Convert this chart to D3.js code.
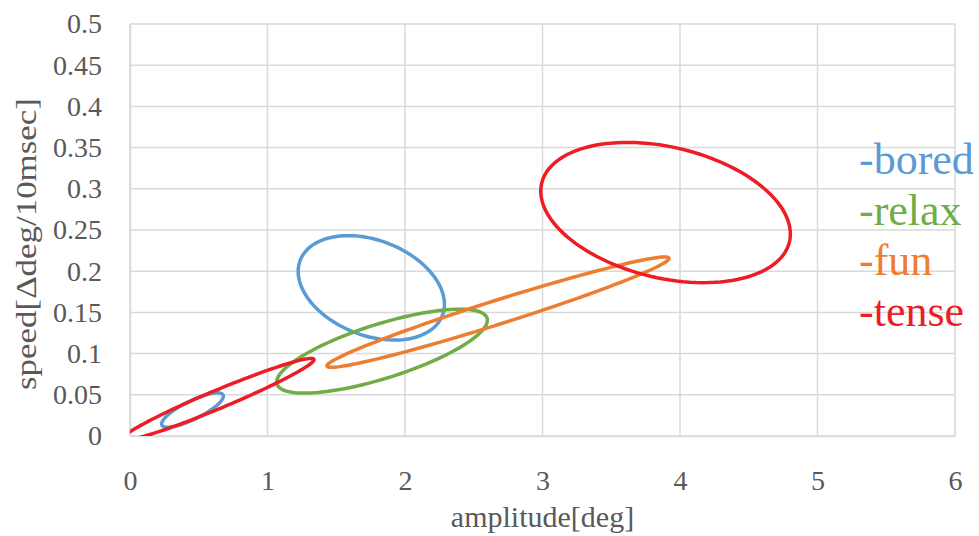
<!DOCTYPE html>
<html>
<head>
<meta charset="utf-8">
<script src="https://cdn.jsdelivr.net/npm/d3@7"></script>
<style>
  html, body { margin: 0; padding: 0; background: #fff; }
  svg text { font-family: "Liberation Serif", "Times New Roman", serif !important; }
</style>
</head>
<body>
<div id="chart"></div>
<script>
// series / legend
var seriesNames = ["bored", "relax", "fun", "tense"];
var seriesColors = ["#5b9bd5", "#70ad47", "#ed7d31", "#ee1c25"];

// one entry per ellipse: owner series, centre, major and minor half-axes (data units)
var ellipseSeries = ["bored", "bored", "relax", "fun", "tense", "tense"];
var centerX = [0.4545, 1.755, 1.833, 2.676, 0.64, 3.895];
var centerY = [0.0315, 0.1798, 0.103, 0.1503, 0.0445, 0.2712];
var majorX  = [0.2225, 0.517, 0.764, 1.2436, 0.6975, 0.901];
var majorY  = [0.0183, -0.0335, 0.040, 0.0655, 0.0486, -0.0356];
var minorX  = [0.0297, -0.125, 0.058, 0.0262, 0.0258, -0.1098];
var minorY  = [-0.0100, -0.0538, -0.0315, -0.0138, -0.0103, -0.0773];

// axes
var xTicks = [0, 1, 2, 3, 4, 5, 6];
var yTicks = [0, 0.05, 0.1, 0.15, 0.2, 0.25, 0.3, 0.35, 0.4, 0.45, 0.5];
var yTickLabels = ["0", "0.05", "0.1", "0.15", "0.2", "0.25", "0.3", "0.35", "0.4", "0.45", "0.5"];
var xTitle = "amplitude[deg]";
var yTitle = "speed[\u0394deg/10msec]";

var W = 979, H = 536;
var margin = {top: 24, right: 24, bottom: 100, left: 130},
    width = W - margin.left - margin.right,
    height = H - margin.top - margin.bottom;

var x = d3.scaleLinear().domain([0, 6]).range([0, width]);
var y = d3.scaleLinear().domain([0, 0.5]).range([height, 0]);
var color = d3.scaleOrdinal().domain(seriesNames).range(seriesColors);

var svg = d3.select("#chart").append("svg")
    .attr("width", W)
    .attr("height", H);

var g = svg.append("g")
    .attr("transform", "translate(" + margin.left + "," + margin.top + ")");

// gridlines
g.append("g").selectAll("line.h")
  .data(yTicks).enter().append("line")
    .attr("x1", 0).attr("x2", width)
    .attr("y1", function(d) { return y(d); })
    .attr("y2", function(d) { return y(d); })
    .attr("stroke", "#d9d9d9").attr("stroke-width", 1.5);

g.append("g").selectAll("line.v")
  .data(xTicks).enter().append("line")
    .attr("y1", 0).attr("y2", height)
    .attr("x1", function(d) { return x(d); })
    .attr("x2", function(d) { return x(d); })
    .attr("stroke", "#d9d9d9").attr("stroke-width", 1.5);

// axes (no tick marks, just labels)
var xAxis = g.append("g")
    .attr("transform", "translate(0," + height + ")")
    .call(d3.axisBottom(x).tickValues(xTicks).tickSize(0).tickPadding(34).tickFormat(d3.format("d")));
xAxis.select(".domain").attr("stroke", "#d9d9d9").attr("stroke-width", 1.5);
xAxis.selectAll("text")
    .attr("font-size", 28).attr("fill", "#595959");

var yAxis = g.append("g")
    .call(d3.axisLeft(y).tickValues(yTicks).tickSize(0).tickPadding(28)
      .tickFormat(function(d, i) { return yTickLabels[i]; }));
yAxis.select(".domain").attr("stroke", "#d9d9d9").attr("stroke-width", 1.5);
yAxis.selectAll("text")
    .attr("font-size", 28).attr("fill", "#595959");

// axis titles
svg.append("text")
    .attr("x", margin.left + width / 2)
    .attr("y", 527)
    .attr("text-anchor", "middle")
    .attr("font-size", 30).attr("fill", "#595959")
    .text(xTitle);

svg.append("text")
    .attr("transform", "translate(36,244) rotate(-90)")
    .attr("text-anchor", "middle")
    .attr("font-size", 30).attr("fill", "#595959")
    .attr("textLength", 292)
    .attr("lengthAdjust", "spacingAndGlyphs")
    .text(yTitle);

// ellipses, clipped to plot area
g.append("clipPath").attr("id", "plot-clip")
  .append("rect").attr("width", width).attr("height", height);

var steps = d3.range(0, 120);
var line = d3.line()
    .x(function(d) { return x(d[0]); })
    .y(function(d) { return y(d[1]); })
    .curve(d3.curveLinearClosed);

var ellipses = ellipseSeries.map(function(s, i) {
  return {
    series: s,
    pts: steps.map(function(k) {
      var t = k / steps.length * 2 * Math.PI;
      return [centerX[i] + majorX[i] * Math.cos(t) + minorX[i] * Math.sin(t),
              centerY[i] + majorY[i] * Math.cos(t) + minorY[i] * Math.sin(t)];
    })
  };
});

g.append("g").attr("clip-path", "url(#plot-clip)")
  .selectAll("path")
  .data(ellipses).enter().append("path")
    .attr("d", function(d) { return line(d.pts); })
    .attr("fill", "none")
    .attr("stroke", function(d) { return color(d.series); })
    .attr("stroke-width", 3.5);

// legend
svg.append("g").selectAll("text")
  .data(seriesNames).enter().append("text")
    .attr("x", 859)
    .attr("y", function(d, i) { return 174 + i * 50.5; })
    .attr("font-size", 44)
    .attr("fill", function(d) { return color(d); })
    .text(function(d) { return "-" + d; });
</script>
</body>
</html>
